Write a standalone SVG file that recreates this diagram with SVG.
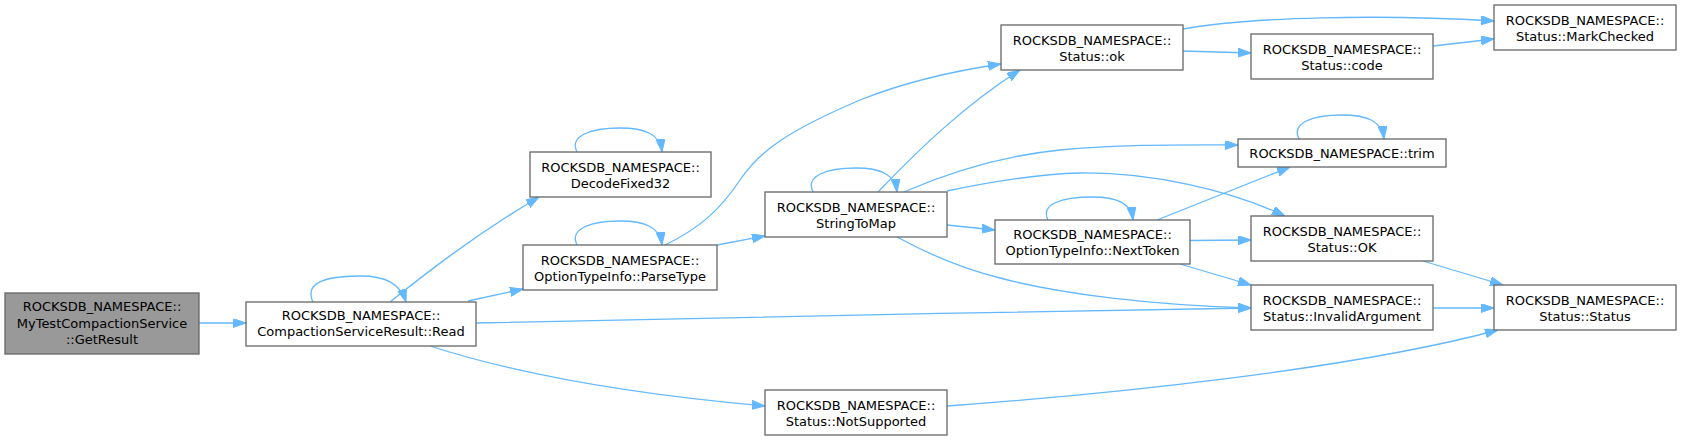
<svg xmlns="http://www.w3.org/2000/svg" width="1681" height="441" viewBox="0 0 1681 441">
<style>
.n rect{fill:#ffffff;stroke:#666666;stroke-width:1.3}
.n.hl rect{fill:#999999}
.n text{font-family:"DejaVu Sans",sans-serif;font-size:13px;fill:#000000;text-anchor:middle}
.e path{fill:none;stroke:#63b8ff;stroke-width:1.3;marker-end:url(#ah)}
</style>
<defs>
<marker id="ah" markerUnits="userSpaceOnUse" markerWidth="14" markerHeight="10" refX="13" refY="4.5" orient="auto">
<path d="M0,0 L13,4.5 L0,9 z" fill="#63b8ff" stroke="#63b8ff" stroke-width="1"/>
</marker>
</defs>
<rect width="1681" height="441" fill="#ffffff"/>
<g id="edges" class="e">
<path d="M199,323 L246,323"/>
<path d="M313,302 C305,285 320,276 360,276 C385,276 400,283 406,302"/>
<path d="M390,302 C420,278 470,238 539,197"/>
<path d="M468,301 L523,289"/>
<path d="M476,323 C700,318 1000,312 1251,308"/>
<path d="M430,346 C520,375 640,395 765,406"/>
<path d="M577,152 C569,136 590,128 620,128 C645,128 660,134 662,152"/>
<path d="M577,245 C569,229 590,221 620,221 C645,221 660,227 662,245"/>
<path d="M665,245 C700,228 720,210 740,180 C760,150 790,130 860,100 C910,80 960,70 1001,64"/>
<path d="M717,245 L765,236"/>
<path d="M813,192 C805,176 826,168 856,168 C880,168 895,174 897,192"/>
<path d="M878,192 C920,148 965,105 1020,70"/>
<path d="M904,192 C950,172 1000,156 1060,150 C1120,144 1190,145 1238,145"/>
<path d="M947,191 C990,182 1040,174 1080,173 C1150,172 1230,190 1285,216"/>
<path d="M947,225 L995,230"/>
<path d="M897,237 C930,255 960,268 1000,278 C1060,294 1150,305 1251,308"/>
<path d="M1048,220 C1040,204 1062,197 1092,197 C1117,197 1131,203 1133,220"/>
<path d="M1157,220 L1290,167"/>
<path d="M1190,240.5 L1251,240"/>
<path d="M1180,264 L1251,285"/>
<path d="M1183,29 C1250,17 1380,14 1494,21"/>
<path d="M1183,51 L1251,53"/>
<path d="M1433,46 L1494,39"/>
<path d="M1299,139 C1291,123 1312,115 1342,115 C1367,115 1382,121 1384,139"/>
<path d="M1423,261 L1503,285"/>
<path d="M1433,308 L1494,308"/>
<path d="M947,406 C1100,395 1350,370 1498,330"/>
</g>
<g id="node_getresult" class="n hl">
<rect x="5" y="293" width="194" height="61"/>
<text x="102" y="311">ROCKSDB_NAMESPACE::</text>
<text x="102" y="327.5">MyTestCompactionService</text>
<text x="102" y="344">::GetResult</text>
</g>
<g id="node_read" class="n">
<rect x="246" y="302" width="230" height="44"/>
<text x="361" y="319.5">ROCKSDB_NAMESPACE::</text>
<text x="361" y="336">CompactionServiceResult::Read</text>
</g>
<g id="node_decodefixed32" class="n">
<rect x="530" y="152" width="181" height="45"/>
<text x="620.5" y="171.5">ROCKSDB_NAMESPACE::</text>
<text x="620.5" y="188">DecodeFixed32</text>
</g>
<g id="node_parsetype" class="n">
<rect x="523" y="245" width="194" height="45"/>
<text x="620" y="264.5">ROCKSDB_NAMESPACE::</text>
<text x="620" y="281">OptionTypeInfo::ParseType</text>
</g>
<g id="node_stringtomap" class="n">
<rect x="765" y="192" width="182" height="45"/>
<text x="856" y="211.5">ROCKSDB_NAMESPACE::</text>
<text x="856" y="228">StringToMap</text>
</g>
<g id="node_notsupported" class="n">
<rect x="765" y="390" width="182" height="45"/>
<text x="856" y="409.5">ROCKSDB_NAMESPACE::</text>
<text x="856" y="426">Status::NotSupported</text>
</g>
<g id="node_ok" class="n">
<rect x="1001" y="25" width="182" height="45"/>
<text x="1092" y="44.5">ROCKSDB_NAMESPACE::</text>
<text x="1092" y="61">Status::ok</text>
</g>
<g id="node_nexttoken" class="n">
<rect x="995" y="220" width="195" height="44"/>
<text x="1092.5" y="238.5">ROCKSDB_NAMESPACE::</text>
<text x="1092.5" y="255">OptionTypeInfo::NextToken</text>
</g>
<g id="node_code" class="n">
<rect x="1251" y="34" width="182" height="45"/>
<text x="1342" y="53.5">ROCKSDB_NAMESPACE::</text>
<text x="1342" y="70">Status::code</text>
</g>
<g id="node_trim" class="n">
<rect x="1238" y="139" width="208" height="28"/>
<text x="1342" y="157.5">ROCKSDB_NAMESPACE::trim</text>
</g>
<g id="node_OK" class="n">
<rect x="1251" y="216" width="182" height="45"/>
<text x="1342" y="235.5">ROCKSDB_NAMESPACE::</text>
<text x="1342" y="252">Status::OK</text>
</g>
<g id="node_invalidargument" class="n">
<rect x="1251" y="285" width="182" height="45"/>
<text x="1342" y="304.5">ROCKSDB_NAMESPACE::</text>
<text x="1342" y="321">Status::InvalidArgument</text>
</g>
<g id="node_markchecked" class="n">
<rect x="1494" y="5" width="182" height="45"/>
<text x="1585" y="24.5">ROCKSDB_NAMESPACE::</text>
<text x="1585" y="41">Status::MarkChecked</text>
</g>
<g id="node_status" class="n">
<rect x="1494" y="285" width="182" height="45"/>
<text x="1585" y="304.5">ROCKSDB_NAMESPACE::</text>
<text x="1585" y="321">Status::Status</text>
</g>
</svg>
